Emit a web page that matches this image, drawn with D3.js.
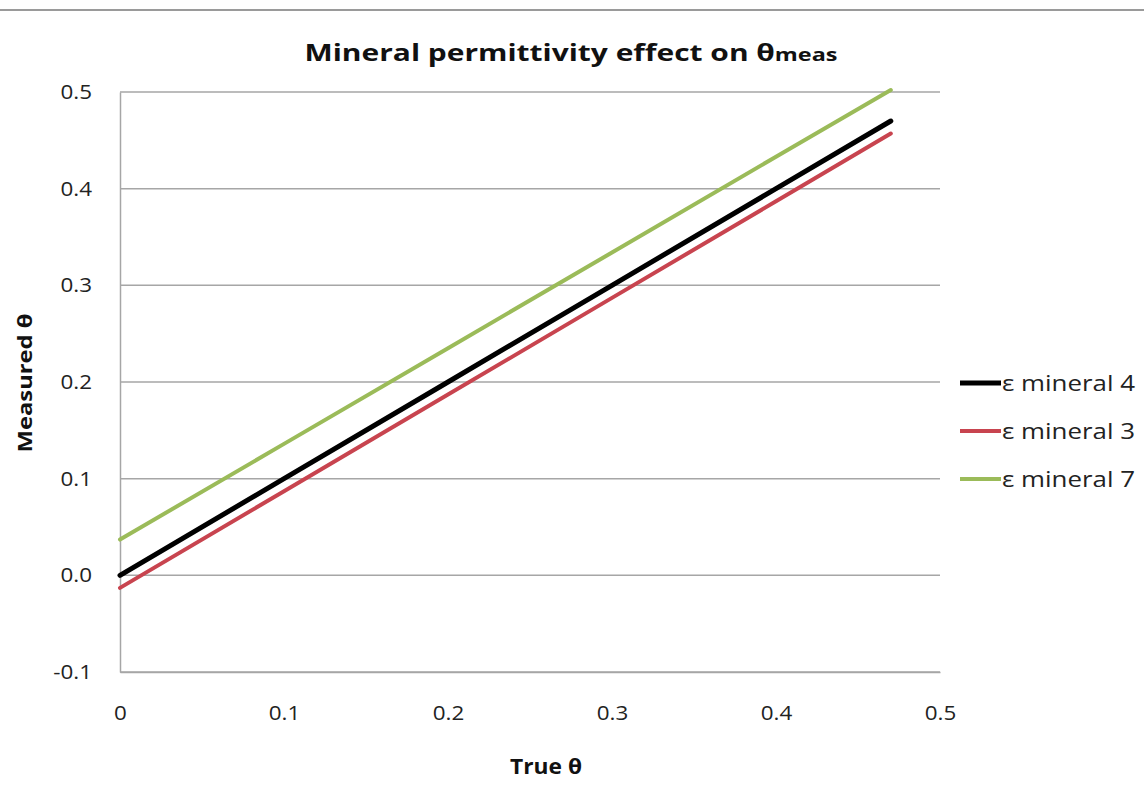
<!DOCTYPE html>
<html>
<head>
<meta charset="utf-8">
<script src="https://cdn.jsdelivr.net/npm/d3@7"></script>
<style>
  html, body { margin: 0; padding: 0; background: #fff; }
  svg { display: block; font-family: "Open Sans", Lato, sans-serif; }
</style>
</head>
<body>
<svg id="chart" width="1144" height="789"></svg>
<script>
// True water content (x) and the measured values for each mineral permittivity
const trueTheta = [0, 0.1, 0.2, 0.3, 0.4, 0.47];
const mineral4 = [0.000, 0.100, 0.200, 0.300, 0.400, 0.470];
const mineral3 = [-0.013, 0.087, 0.187, 0.287, 0.387, 0.457];
const mineral7 = [0.037, 0.136, 0.235, 0.334, 0.433, 0.502];

const seriesNames = ["ε mineral 4", "ε mineral 3", "ε mineral 7"];
const seriesColors = ["#000000", "#c8444f", "#9bbb59"];
const seriesWidths = [5, 4, 4];

const xTicks = [0, 0.1, 0.2, 0.3, 0.4, 0.5];
const yTicks = [-0.1, 0.0, 0.1, 0.2, 0.3, 0.4, 0.5];

const svg = d3.select("#chart");

// widen a text run horizontally by a factor, keeping its anchor
function widen(sel, k) {
  sel.each(function () {
    const w = this.getComputedTextLength();
    d3.select(this).attr("textLength", w * k).attr("lengthAdjust", "spacingAndGlyphs");
  });
}
// stretch a text run to an exact width
function fitTo(sel, w) {
  sel.attr("textLength", w).attr("lengthAdjust", "spacingAndGlyphs");
}

// faint rule across the top of the page
svg.append("line")
  .attr("x1", 0).attr("x2", 1144)
  .attr("y1", 10).attr("y2", 10)
  .attr("stroke", "#9a9a9a").attr("stroke-width", 2);

const plot = { left: 120, right: 940, top: 92, bottom: 672 };

const x = d3.scaleLinear().domain([0, 0.5]).range([plot.left, plot.right]);
const y = d3.scaleLinear().domain([-0.1, 0.5]).range([plot.bottom, plot.top]);

// horizontal gridlines
svg.append("g")
  .selectAll("line")
  .data(yTicks)
  .join("line")
  .attr("x1", plot.left).attr("x2", plot.right)
  .attr("y1", d => y(d)).attr("y2", d => y(d))
  .attr("stroke", "#a6a6a6").attr("stroke-width", 1.5);

// axes
const fmt1 = v => d3.format(".1f")(v).replace("−", "-");
const yAxis = d3.axisLeft(y).tickValues(yTicks).tickSize(0).tickPadding(28)
  .tickFormat(fmt1);
const gy = svg.append("g").attr("transform", `translate(${plot.left},0)`).call(yAxis);
gy.select(".domain").attr("stroke", "#a6a6a6").attr("stroke-width", 1.5);
gy.selectAll("text").attr("font-size", 20).attr("fill", "#222").attr("font-family", "'Open Sans', sans-serif");
widen(gy.selectAll("text"), 1.12);

const xAxis = d3.axisBottom(x).tickValues(xTicks).tickSize(0).tickPadding(34)
  .tickFormat(d => d === 0 ? "0" : fmt1(d));
const gx = svg.append("g").attr("transform", `translate(0,${plot.bottom})`).call(xAxis);
gx.select(".domain").attr("stroke", "#a6a6a6").attr("stroke-width", 1.5);
gx.selectAll("text").attr("font-size", 20).attr("fill", "#222").attr("font-family", "'Open Sans', sans-serif");
widen(gx.selectAll("text"), 1.12);

// series lines
const allSeries = [mineral4, mineral3, mineral7];
const line = d3.line().x(d => x(d[0])).y(d => y(d[1]));
const drawOrder = [2, 1, 0];
drawOrder.forEach(i => {
  svg.append("path")
    .datum(trueTheta.map((t, j) => [t, allSeries[i][j]]))
    .attr("d", line)
    .attr("fill", "none")
    .attr("stroke", seriesColors[i])
    .attr("stroke-width", seriesWidths[i])
    .attr("stroke-linecap", "round");
});

// legend
const legend = svg.append("g");
seriesNames.forEach((name, i) => {
  const ly = 383 + i * 48;
  legend.append("line")
    .attr("x1", 960).attr("x2", 1001)
    .attr("y1", ly).attr("y2", ly)
    .attr("stroke", seriesColors[i]).attr("stroke-width", seriesWidths[i]);
  const t = legend.append("text")
    .attr("x", 1002).attr("y", ly + 8)
    .attr("font-size", 21).attr("fill", "#222")
    .text(name);
  fitTo(t, 133);
});

// title
const title = svg.append("text")
  .attr("x", 571).attr("y", 61)
  .attr("text-anchor", "middle")
  .attr("font-size", 23).attr("font-weight", "bold").attr("fill", "#111");
title.append("tspan").text("Mineral permittivity effect on θ");
title.append("tspan").attr("font-size", 18).text("meas");
fitTo(title, 533);

// axis titles
const xTitle = svg.append("text")
  .attr("x", 546).attr("y", 774)
  .attr("text-anchor", "middle")
  .attr("font-size", 21).attr("font-weight", "bold").attr("fill", "#111")
  .text("True θ");
fitTo(xTitle, 72);

const yTitle = svg.append("text")
  .attr("transform", "translate(32,383) rotate(-90)")
  .attr("text-anchor", "middle")
  .attr("font-size", 20).attr("font-weight", "bold").attr("fill", "#111")
  .text("Measured θ");
fitTo(yTitle, 139);
</script>
</body>
</html>
